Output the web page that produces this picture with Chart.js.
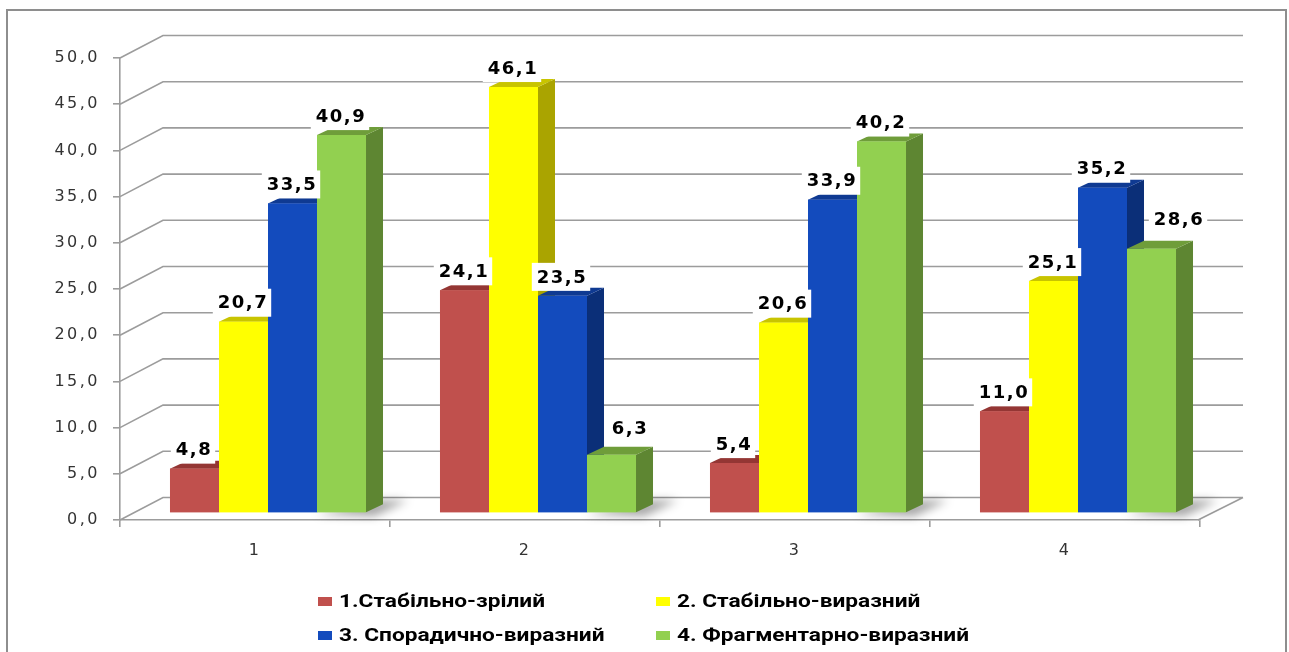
<!DOCTYPE html>
<html>
<head>
<meta charset="utf-8">
<script src="https://cdn.jsdelivr.net/npm/chart.js@4.4.1/dist/chart.umd.min.js"></script>
<style>
  html, body { margin: 0; padding: 0; background: #fff; }
  #wrap { position: relative; width: 1289px; height: 652px; overflow: hidden; }
  #frame { position: absolute; left: 6px; top: 9px; width: 1277px; height: 700px; border: 2px solid #8e8e8e; }
  #chart { position: absolute; left: 0; top: 0; }
  .legend-item { position: absolute; height: 20px; white-space: nowrap; }
  .legend-item .box { position: absolute; left: 0; top: 6px; width: 14px; height: 9px; }
  .legend-item .txt { position: absolute; left: 21px; top: 0; line-height: 20px; font-family: Roboto, "Open Sans", sans-serif; font-weight: 700; font-size: 18px; color: #000; transform: scaleX(1.26); transform-origin: 0 50%; }
</style>
</head>
<body>
<div id="wrap">
  <div id="frame"></div>
  <canvas id="chart" width="1289" height="652"></canvas>
  <div id="legend"></div>
</div>
<script>
const categories = ["1", "2", "3", "4"];
const seriesNames = ["1.Стабільно-зрілий", "2. Стабільно-виразний", "3. Спорадично-виразний", "4. Фрагментарно-виразний"];
const stableMature = [4.8, 24.1, 5.4, 11.0];
const stableExpressive = [20.7, 46.1, 20.6, 25.1];
const sporadicExpressive = [33.5, 23.5, 33.9, 35.2];
const fragmentaryExpressive = [40.9, 6.3, 40.2, 28.6];

const frontColors = ["#c0504d", "#ffff00", "#134bbd", "#92d050"];
const topColors = ["#943634", "#c8c400", "#0f3a92", "#6f9d3a"];
const sideColors = ["#8a3533", "#aaa400", "#0b2f78", "#5e8632"];

// 3d look
const DEPTH_X = 17, DEPTH_Y = 8;      // bar depth
const WALL_X = 43, WALL_Y = 22.5;     // back wall offset
const BAR_SHIFT_X = 13, BAR_SHIFT_Y = -7;
// a couple of labels were nudged in the original
const labelNudge = { "3-1": [19, -7], "3-3": [28, -10] };

const fmt = (v) => v.toFixed(1).replace(".", ",");

const threeD = {
  id: "threeD",
  beforeDraw(chart) {
    chart.ctx.letterSpacing = "2.5px";
  },
  beforeDatasetsDraw(chart) {
    const ctx = chart.ctx;
    const y = chart.scales.y;
    const area = chart.chartArea;
    ctx.save();
    ctx.letterSpacing = "0px";
    ctx.strokeStyle = "#9c9c9c";
    ctx.lineWidth = 1.6;
    ctx.beginPath();
    y.ticks.forEach((t) => {
      const py = y.getPixelForValue(t.value);
      ctx.moveTo(area.left, py);
      ctx.lineTo(area.left + WALL_X, py - WALL_Y);
      ctx.lineTo(area.right + WALL_X, py - WALL_Y);
    });
    const py0 = y.getPixelForValue(0);
    ctx.moveTo(area.right - 2, py0);
    ctx.lineTo(area.right + WALL_X, py0 - WALL_Y);
    ctx.stroke();

    // soft shadows on the floor
    const last = chart.getDatasetMeta(3).data;
    ctx.filter = "blur(5px)";
    ctx.fillStyle = "rgba(0,0,0,0.35)";
    last.forEach((bar) => {
      const gx = bar.x + bar.width / 2 + BAR_SHIFT_X;
      const by = bar.base + BAR_SHIFT_Y;
      ctx.beginPath();
      ctx.moveTo(gx - 50, by + 2);
      ctx.lineTo(gx + 8, by + 4);
      ctx.lineTo(gx + 42, by - 12);
      ctx.lineTo(gx + 10, by - 12);
      ctx.closePath();
      ctx.fill();
    });
    ctx.restore();

    ctx.save();
    ctx.letterSpacing = "0px";
    ctx.translate(BAR_SHIFT_X, BAR_SHIFT_Y);
  },
  afterDatasetsDraw(chart) {
    const ctx = chart.ctx;
    const n = chart.data.labels.length;
    for (let c = 0; c < n; c++) {
      for (let s = 0; s < chart.data.datasets.length; s++) {
        const bar = chart.getDatasetMeta(s).data[c];
        const x1 = bar.x - bar.width / 2, x2 = bar.x + bar.width / 2;
        const top = bar.y, base = bar.base;
        ctx.fillStyle = sideColors[s];
        ctx.beginPath();
        ctx.moveTo(x2, top);
        ctx.lineTo(x2 + DEPTH_X, top - DEPTH_Y);
        ctx.lineTo(x2 + DEPTH_X, base - DEPTH_Y);
        ctx.lineTo(x2, base);
        ctx.closePath();
        ctx.fill();
        ctx.fillStyle = topColors[s];
        ctx.beginPath();
        ctx.moveTo(x1, top);
        ctx.lineTo(x1 + DEPTH_X, top - DEPTH_Y);
        ctx.lineTo(x2 + DEPTH_X, top - DEPTH_Y);
        ctx.lineTo(x2, top);
        ctx.closePath();
        ctx.fill();
        ctx.fillStyle = frontColors[s];
        ctx.fillRect(x1, top, x2 - x1, base - top);
      }
    }
    // value labels
    ctx.font = "bold 18px 'DejaVu Sans'";
    ctx.letterSpacing = "1.5px";
    ctx.textAlign = "center";
    ctx.textBaseline = "middle";
    chart.data.datasets.forEach((ds, s) => {
      chart.getDatasetMeta(s).data.forEach((bar, c) => {
        const nudge = labelNudge[s + "-" + c] || [0, 0];
        const txt = fmt(ds.data[c]);
        const cx = bar.x - 1.5 + nudge[0];
        const cy = bar.y - 19 + nudge[1];
        const w = ctx.measureText(txt).width;
        ctx.fillStyle = "#fff";
        ctx.fillRect(cx - w / 2 - 4, cy - 14, w + 8, 28);
        ctx.fillStyle = "#000";
        ctx.fillText(txt, cx + 1, cy + 1);
      });
    });
    ctx.restore();
  },
};

function buildLegend() {
  const legend = document.getElementById("legend");
  const cols = [318, 656];
  const rows = [600.7, 634.7];
  legend.innerHTML = seriesNames
    .map((name, i) => {
      const left = cols[i % 2];
      const top = rows[Math.floor(i / 2)] - 10;
      return `<div class="legend-item" style="left:${left}px;top:${top}px"><span class="box" style="background:${frontColors[i]}"></span><span class="txt">${name}</span></div>`;
    })
    .join("");
}

function renderChart() {
  const ctx = document.getElementById("chart").getContext("2d");
  const seriesData = [stableMature, stableExpressive, sporadicExpressive, fragmentaryExpressive];
  new Chart(ctx, {
    type: "bar",
    data: {
      labels: categories,
      datasets: seriesData.map((d, i) => ({
        label: seriesNames[i],
        data: d,
        backgroundColor: frontColors[i],
        borderWidth: 0,
        categoryPercentage: 0.726,
        barPercentage: 1.0,
      })),
    },
    options: {
      responsive: false,
      animation: false,
      maintainAspectRatio: false,
      layout: { padding: { top: 58, right: 89, left: 0, bottom: 0 } },
      plugins: {
        legend: { display: false },
        tooltip: { enabled: false },
        title: { display: false },
      },
      scales: {
        x: {
          afterFit: (scale) => { scale.height = 132; },
          grid: { drawOnChartArea: false, drawTicks: true, tickLength: 7, color: "#9c9c9c", lineWidth: 1.6 },
          border: { display: true, color: "#9c9c9c", width: 1.6 },
          ticks: { color: "#333", font: { family: "'DejaVu Sans'", size: 16 }, padding: 14 },
        },
        y: {
          min: 0,
          max: 50,
          afterFit: (scale) => { scale.width = 120; },
          grid: { drawOnChartArea: false, drawTicks: true, tickLength: 7, color: "#9c9c9c", lineWidth: 1.6 },
          border: { display: true, color: "#9c9c9c", width: 1.6 },
          ticks: { stepSize: 5, color: "#333", font: { family: "'DejaVu Sans'", size: 16 }, padding: 13, callback: (v) => fmt(v) },
        },
      },
    },
    plugins: [threeD],
  });
}

buildLegend();
renderChart();
</script>
</body>
</html>
